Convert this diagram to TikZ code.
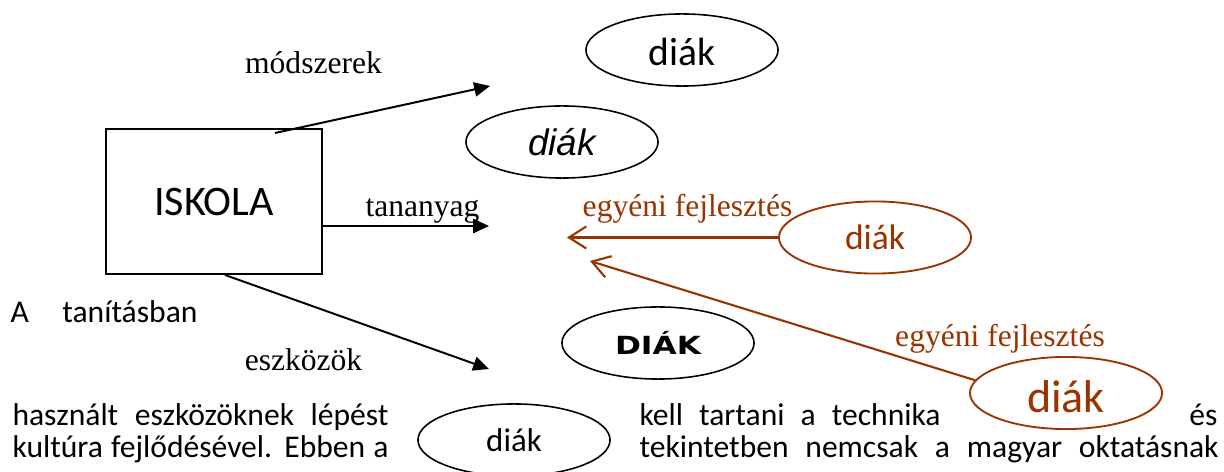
\documentclass[tikz,border=0pt]{standalone}
\usepackage{fontspec}
\setmainfont{Carlito}
\newfontfamily\serifface{Liberation Serif}
\newfontfamily\arialface{Liberation Sans}
\newfontfamily\wideface{DejaVu Sans}
\usepackage{graphicx}
\usepackage{xcolor}
\definecolor{brownLine}{HTML}{993300}
\usepackage{tikz}
\usetikzlibrary{
    shapes.geometric,
    arrows.meta
}
\newdimen\pxu
\pxu=0.38pt
\tikzset{
    % School box
    school/.style={
        rectangle,
        draw,
        line width=0.75pt,
        minimum width=82.1pt,
        minimum height=55.1pt,
        inner sep=0pt,
        font=\fontsize{16}{19}\selectfont,
    },
    % Student ellipses
    pupil/.style={
        ellipse,
        draw,
        line width=0.6pt,
        minimum width=73pt,
        minimum height=27.4pt,
        inner sep=0pt,
    },
    % Brown variant
    pupil brown/.style={
        pupil,
        draw=brownLine,
        text=brownLine,
        line width=0.7pt,
    },
    % Black arrows, filled tip
    arrow/.style={
        -{Triangle[length=6pt, width=5.4pt]},
        line width=0.75pt,
    },
    % Brown arrows, open tip
    arrow brown/.style={
        -{Straight Barb[length=6.6pt, width=8.4pt]},
        line width=0.8pt,
        draw=brownLine,
    },
    % Labels next to the arrows
    edge label/.style={
        font=\serifface\fontsize{12}{14}\selectfont,
        anchor=base,
        inner sep=0pt,
    },
    % Running text lines
    body line/.style={
        font=\fontsize{12}{14}\selectfont,
        anchor=base west,
        inner sep=0pt,
    },
}

\begin{document}
\begin{tikzpicture}[x=0.38pt, y=-0.38pt]
    \useasboundingbox (0,0) rectangle (1224,472);

    \node (iskola) [school] at (214,201.5) {ISKOLA};
    \node (diak_top) [pupil, font=\fontsize{15}{18}\selectfont] at (682,50) {\raisebox{-0.5pt}[\height][0pt]{diák}};
    \node (diak_it) [pupil, font=\arialface\itshape\fontsize{14}{17}\selectfont] at (562,142) {diák};
    \node (diak_caps) [pupil, font=\wideface\bfseries\fontsize{9.5}{11}\selectfont] at (658,343) {\scalebox{1.25}[1]{DIÁK}};
    \node (diak_low) [pupil, font=\fontsize{12.5}{15}\selectfont] at (514,440) {diák};
    \node (diak_mid) [pupil brown, font=\fontsize{13.5}{16}\selectfont] at (875,237.5) {diák};
    \node (diak_big) [pupil brown, font=\fontsize{17.5}{21}\selectfont] at (1066,393) {\raisebox{-1.5pt}[\height][0pt]{diák}};

    \coordinate (mtip) at (490,86);
    \coordinate (ttip) at (489,226);
    \coordinate (etip) at (489,369);
    \coordinate (btip1) at (567,237.5);
    \coordinate (btip2) at (590,261);

    \draw [arrow] ([shift={(-48,5)}]iskola.north east) -- (mtip);
    \draw [arrow] (iskola.east |- ttip) -- (ttip);
    \draw [arrow] ([shift={(11,0)}]iskola.south) -- (etip);
    \draw [arrow brown] (diak_mid) -- (btip1);
    \draw [arrow brown] (diak_big.172) -- (btip2);

    \node (lab_m) [edge label] at (313.5,74) {módszerek};
    \node (lab_t) [edge label] at (422.5,217) {tananyag};
    \node (lab_e) [edge label] at (303.5,371) {eszközök};
    \node (lab_b1) [edge label, text=brownLine] at (687.5,217) {egyéni fejlesztés};
    \node (lab_b2) [edge label, text=brownLine] at (1000,347) {egyéni fejlesztés};

    \node (txt_a) [body line] at (10,323) {\makebox[187\pxu][s]{A tanításban}};
    \node (txt_l1) [body line] at (12,426) {\makebox[376\pxu][s]{használt eszközöknek lépést}};
    \node (txt_l2) [body line] at (12,458) {\makebox[376\pxu][s]{kultúra fejlődésével. Ebben a}};
    \node (txt_r1) [body line] at (639,426) {\makebox[301\pxu][s]{kell tartani a technika}};
    \node (txt_r1b) [body line, anchor=base east] at (1218,426) {és};
    \node (txt_r2) [body line] at (639,458) {\makebox[579\pxu][s]{tekintetben nemcsak a magyar oktatásnak}};
\end{tikzpicture}
\end{document}
